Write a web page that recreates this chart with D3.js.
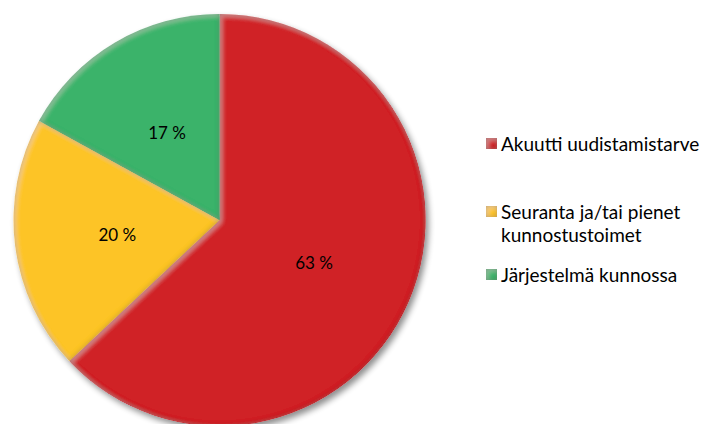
<!DOCTYPE html>
<html>
<head>
<meta charset="utf-8">
<script src="https://cdn.jsdelivr.net/npm/d3@7"></script>
<style>
	body { margin: 0; background: #fff; }
	svg { display: block; }
</style>
</head>
<body>
<script>
var labels = ["Akuutti uudistamistarve", "Seuranta ja/tai pienet|kunnostustoimet", "Järjestelmä kunnossa"];
var values = [63, 20, 17];
var colors = ["#d02027", "#fdc425", "#3bb36a"];

var width = 703, height = 424;
var cx = 219.5, cy = 220, r = 206;

var svg = d3.select("body").append("svg")
	.attr("width", width)
	.attr("height", height);

var defs = svg.append("defs");

// drop shadow under the whole pie
var shadow = defs.append("filter").attr("id", "shadow")
	.attr("x", "-10%").attr("y", "-10%").attr("width", "120%").attr("height", "120%");
shadow.append("feGaussianBlur").attr("in", "SourceAlpha").attr("stdDeviation", 3).attr("result", "b");
shadow.append("feOffset").attr("in", "b").attr("dx", 3).attr("dy", 4).attr("result", "o");
shadow.append("feComponentTransfer").attr("in", "o").attr("result", "s")
	.append("feFuncA").attr("type", "linear").attr("slope", 0.45);
var sm = shadow.append("feMerge");
sm.append("feMergeNode").attr("in", "s");
sm.append("feMergeNode").attr("in", "SourceGraphic");

// soft bevel inside each slice
var bevel = defs.append("filter").attr("id", "bevel");
bevel.append("feGaussianBlur").attr("in", "SourceAlpha").attr("stdDeviation", 2.5).attr("result", "blur");
bevel.append("feComposite").attr("in", "SourceAlpha").attr("in2", "blur")
	.attr("operator", "arithmetic").attr("k2", 1).attr("k3", -1).attr("result", "rim");
bevel.append("feFlood").attr("flood-color", "#000").attr("flood-opacity", 0.5);
bevel.append("feComposite").attr("in2", "rim").attr("operator", "in").attr("result", "shade");
bevel.append("feOffset").attr("in", "blur").attr("dx", 2).attr("dy", 2).attr("result", "ob");
bevel.append("feComposite").attr("in", "SourceAlpha").attr("in2", "ob")
	.attr("operator", "arithmetic").attr("k2", 1).attr("k3", -1).attr("result", "hirim");
bevel.append("feFlood").attr("flood-color", "#fff").attr("flood-opacity", 0.3);
bevel.append("feComposite").attr("in2", "hirim").attr("operator", "in").attr("result", "hi");
var bm = bevel.append("feMerge");
bm.append("feMergeNode").attr("in", "SourceGraphic");
bm.append("feMergeNode").attr("in", "hi");
bm.append("feMergeNode").attr("in", "shade");

var pie = d3.pie().sort(null).value(function(d) { return d; });
var arc = d3.arc().innerRadius(0).outerRadius(r);
var labelArc = d3.arc().innerRadius(r * 0.5).outerRadius(r * 0.5);

var arcs = pie(values);

var g = svg.append("g")
	.attr("transform", "translate(" + cx + "," + cy + ")")
	.attr("filter", "url(#shadow)");

g.selectAll("path")
	.data(arcs)
	.enter().append("path")
	.attr("d", arc)
	.attr("fill", function(d, i) { return colors[i]; })
	.attr("filter", "url(#bevel)");

// percent labels
svg.append("g")
	.attr("transform", "translate(" + cx + "," + cy + ")")
	.selectAll("text")
	.data(arcs)
	.enter().append("text")
	.attr("transform", function(d) { return "translate(" + labelArc.centroid(d) + ")"; })
	.attr("text-anchor", "middle")
	.attr("dy", "0.45em")
	.style("font-family", "Lato, 'Open Sans', sans-serif")
	.style("font-size", "17px")
	.attr("fill", "#000")
	.text(function(d) { return d.value + " %"; });

// legend
var legendY = [143, 211, 274];
var leg = svg.append("g").attr("transform", "translate(486,0)");

leg.selectAll("rect")
	.data(values)
	.enter().append("rect")
	.attr("x", 0)
	.attr("y", function(d, i) { return legendY[i] - 5; })
	.attr("width", 11)
	.attr("height", 11)
	.attr("fill", function(d, i) { return colors[i]; })
	.attr("filter", "url(#bevel)");

leg.selectAll("text")
	.data(labels)
	.enter().append("text")
	.attr("x", 15)
	.attr("y", function(d, i) { return legendY[i] + 8; })
	.style("font-family", "Lato, 'Open Sans', sans-serif")
	.style("font-size", "19px")
	.attr("fill", "#000")
	.each(function(d) {
		var t = d3.select(this);
		d.split("|").forEach(function(line, j) {
			t.append("tspan").attr("x", 15).attr("dy", j ? 23 : 0).text(line);
		});
	});
</script>
</body>
</html>
